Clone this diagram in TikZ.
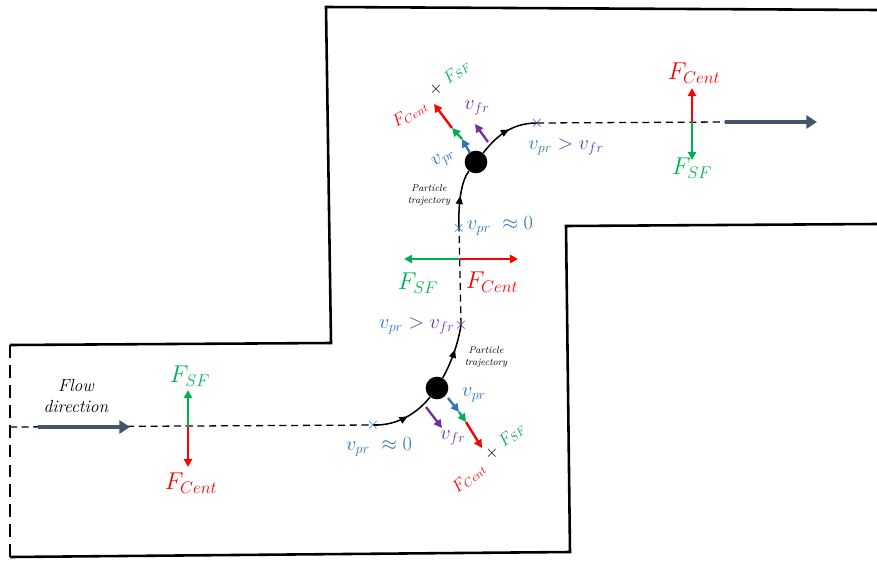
\documentclass[tikz,border=0pt]{standalone}
\usepackage{xcolor}
\usepackage{tikz}
\usetikzlibrary{arrows.meta, decorations.markings, positioning}

\definecolor{fred}{HTML}{FF0000}
\definecolor{fgreen}{HTML}{00B050}
\definecolor{vblue}{HTML}{2E75B6}
\definecolor{vpurple}{HTML}{7030A0}
\definecolor{flowgray}{HTML}{44546A}

\begin{document}
\begin{tikzpicture}[x=0.03cm, y=-0.03cm,
  wall/.style={line width=2.2pt},
  opening/.style={line width=2.2pt, dash pattern=on 11pt off 6pt},
  centreline/.style={line width=1.1pt, dash pattern=on 6pt off 4pt},
  traj/.style={line width=1.3pt, postaction={decorate},
    decoration={markings, mark=at position 0.55 with {\arrow{Triangle[length=7pt,width=6pt]}}}},
  flowarrow/.style={flowgray, line width=3.8pt, -{Triangle[length=9pt,width=11pt]}},
  force/.style={line width=2pt, -{Triangle[length=7pt,width=7pt]}},
  particle/.style={circle, fill=black, inner sep=0pt, minimum size=0.68cm},
  cross/.style={inner sep=0pt, font=\fontsize{15}{16}\selectfont},
  biglabel/.style={font=\fontsize{21}{23}\selectfont},
  vlabel/.style={font=\fontsize{17}{19}\selectfont},
  smalllabel/.style={font=\fontsize{14}{15}\selectfont, inner sep=1pt},
  note/.style={font=\fontsize{8.5}{10}\selectfont\itshape, align=center, inner sep=0pt}
]
\useasboundingbox (0,0) rectangle (877,562);

% channel walls
\draw[wall] (10,345) -- (331,343) -- (326,7) -- (877,10);
\draw[wall] (10,557) -- (570,552) -- (566,226) -- (877,224);
\draw[opening] (10,345) -- (10,557);

% particles
\node[particle] (plow) at (437,388) {};
\node[particle] (pup) at (476,162) {};

% points on the path
\coordinate (inlet) at (10,427);
\coordinate (lowstart) at (373,425);
\coordinate (lowend) at (461,325);
\coordinate (upstart) at (459,228);
\coordinate (upend) at (537,123);
\coordinate (outlet) at (725,122);
\coordinate (outtip) at (817,122);

% centreline and trajectory
\draw[centreline] (inlet) -- (lowstart);
\draw[traj] (lowstart) .. controls (400,426) and (420,410) .. (plow);
\draw[traj] (plow) .. controls (450,365) and (458,345) .. (lowend);
\draw[centreline] (lowend) -- (upstart);
\draw[traj] (upstart) .. controls (458,200) and (462,180) .. (pup);
\draw[traj] (pup) .. controls (495,138) and (510,123) .. (upend);
\draw[centreline] (upend) -- (outlet);

% flow direction
\coordinate (flowtail) at (38,427);
\coordinate (flowtip) at (130,427);
\draw[flowarrow] (flowtail) -- (flowtip);
\draw[flowarrow] (outlet) -- (outtip);
\node[font=\fontsize{15}{18}\selectfont\itshape, align=center] (flowtxt) at (76,396) {Flow\\direction};

% forces in the inlet
\coordinate (fin) at (188,427);
\coordinate (finup) at (188,390);
\coordinate (findown) at (188,467);
\draw[force, fgreen] (fin) -- (finup);
\draw[force, fred] (fin) -- (findown);
\node[biglabel, fgreen] (finsf) at (190,376) {$F_{SF}$};
\node[biglabel, fred] (fincent) at (191,483) {$F_{Cent}$};

% forces in the riser
\coordinate (fmid) at (460,259);
\coordinate (fmidl) at (404,259);
\coordinate (fmidr) at (518,259);
\draw[force, fgreen] (fmid) -- (fmidl);
\draw[force, fred] (fmid) -- (fmidr);
\node[biglabel, fgreen] (fmidsf) at (418,283) {$F_{SF}$};
\node[biglabel, fred] (fmidcent) at (492,282) {$F_{Cent}$};

% forces in the outlet
\coordinate (fout) at (692,122);
\coordinate (foutup) at (692,88);
\coordinate (foutdown) at (692,160);
\draw[force, fred] (fout) -- (foutup);
\draw[force, fgreen] (fout) -- (foutdown);
\node[biglabel, fred] (foutcent) at (694,73) {$F_{Cent}$};
\node[biglabel, fgreen] (foutsf) at (692,168) {$F_{SF}$};

% markers
\node[cross, vblue] (xlow) at (lowstart) {$\times$};
\node[cross, vpurple] (xlowend) at (lowend) {$\times$};
\node[cross, vblue] (xup) at (upstart) {$\times$};
\node[cross, vpurple] (xupend) at (upend) {$\times$};
\node[cross] (xsumup) at (436,89) {$\times$};
\node[cross] (xsumlow) at (492,453) {$\times$};

\node[vlabel, vblue] (vlow0) at (379,447) {$v_{pr}\ \approx 0$};
\node[vlabel, anchor=east, inner sep=1pt] (vlowgt) at (456,326) {$\color{vblue}v_{pr}\color{vpurple} > v_{fr}$};
\node[vlabel, vblue] (vup0) at (500,226) {$v_{pr}\ \approx 0$};
\node[vlabel] (vupgt) at (566,147) {$\color{vblue}v_{pr}\color{vpurple} > v_{fr}$};

% vectors on the lower bend
\coordinate (lb0) at (448,398);
\coordinate (lb1) at (459,412);
\coordinate (lb2) at (466,422);
\coordinate (lb3) at (482,448);
\coordinate (lp0) at (426,407);
\coordinate (lp1) at (442,428);
\draw[force, fred] (lb2) -- (lb3);
\draw[force, fgreen] (lb1) -- (lb2);
\draw[force, vblue] (lb0) -- (lb1);
\draw[force, vpurple] (lp0) -- (lp1);
\node[vlabel, vblue] (vlowpr) at (474,395) {$v_{pr}$};
\node[vlabel, vpurple] (vlowfr) at (453,438) {$v_{fr}$};
\node[smalllabel, fgreen, rotate=40] (lowsf) at (512,435) {$F_{SF}$};
\node[smalllabel, fred, rotate=40] (lowcent) at (469,478) {$F_{Cent}$};
\node[note] (lownote) at (486,357) {Particle\\trajectory};

% vectors on the upper bend
\coordinate (ub0) at (470,153);
\coordinate (ub1) at (462,139);
\coordinate (ub2) at (452,128);
\coordinate (ub3) at (434,104);
\coordinate (up0) at (488,142);
\coordinate (up1) at (475,124);
\draw[force, fred] (ub2) -- (ub3);
\draw[force, fgreen] (ub1) -- (ub2);
\draw[force, vblue] (ub0) -- (ub1);
\draw[force, vpurple] (up0) -- (up1);
\node[vlabel, vblue, rotate=35, inner sep=1pt] (vuppr) at (444,159) {$v_{pr}$};
\node[vlabel, vpurple, inner sep=1pt] (vupfr) at (477,108) {$v_{fr}$};
\node[smalllabel, fgreen, rotate=38] (upsf) at (457,72) {$F_{SF}$};
\node[smalllabel, fred, rotate=31] (upcent) at (410,114) {$F_{Cent}$};
\node[note] (upnote) at (429,195) {Particle\\trajectory};

\end{tikzpicture}
\end{document}
